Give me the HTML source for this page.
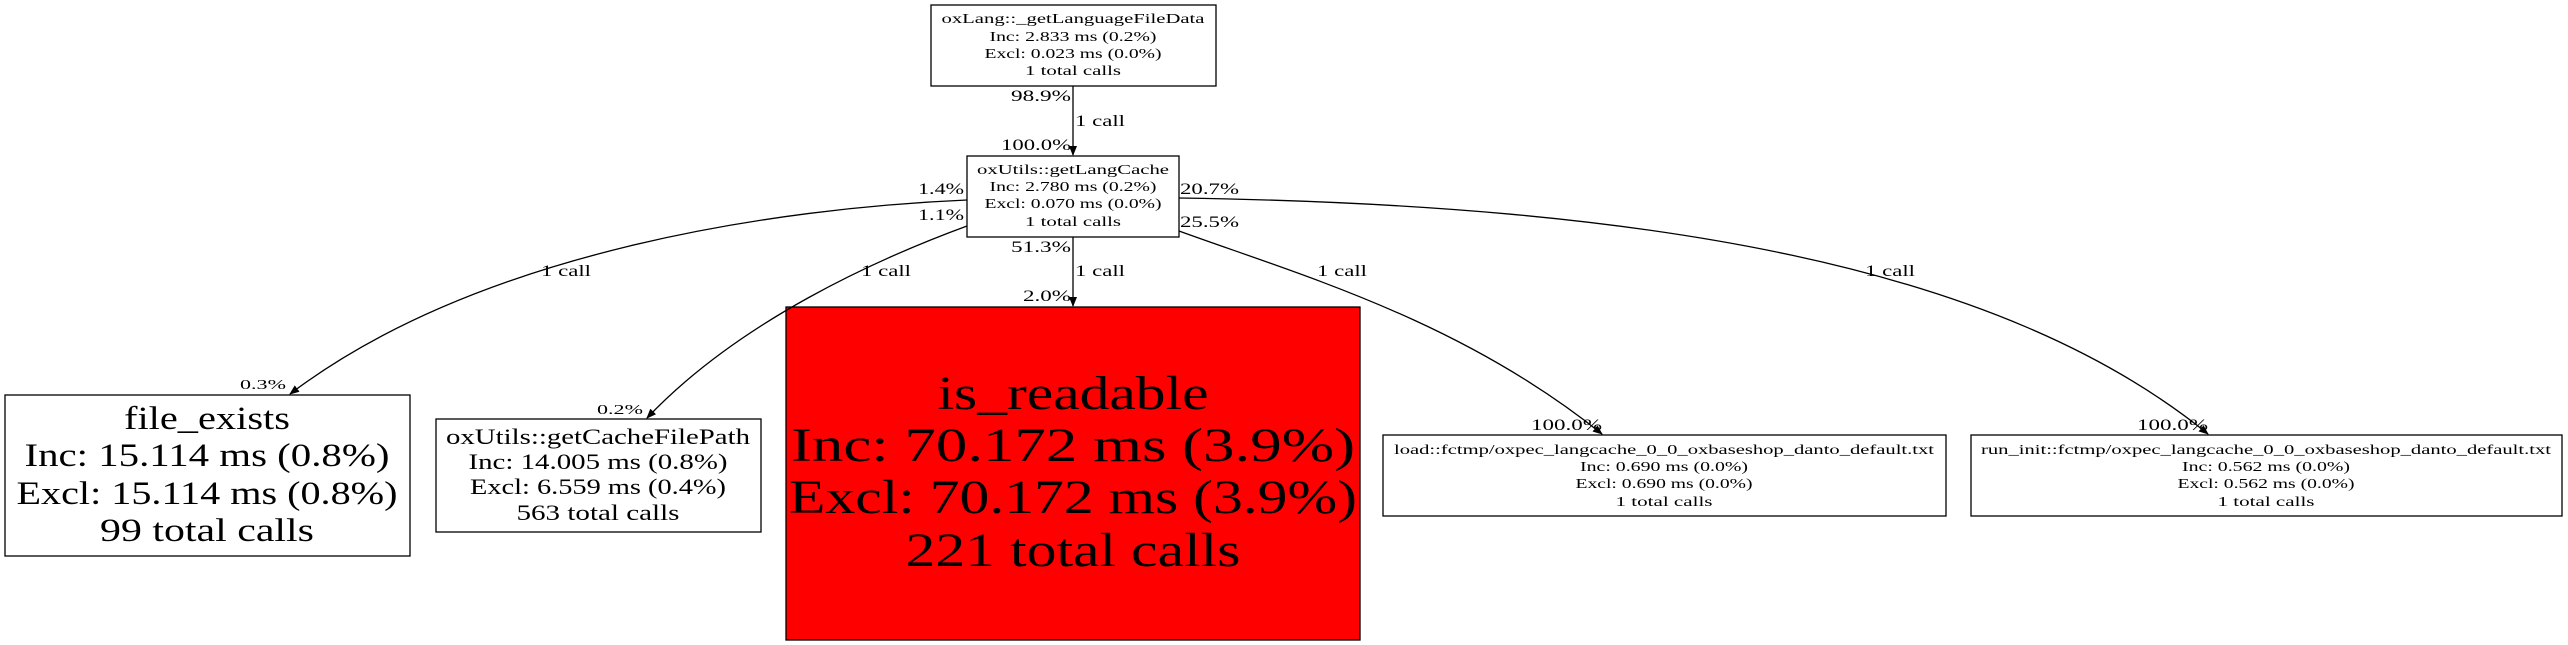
<!DOCTYPE html>
<html><head><meta charset="utf-8"><style>html,body{margin:0;padding:0;background:#fff}svg{display:block}</style></head>
<body>
<svg width="2568" height="645" viewBox="0 0 2568 645" xmlns="http://www.w3.org/2000/svg" font-family="Liberation Serif, serif">
<defs><marker id="a" markerWidth="10" markerHeight="8" refX="9" refY="4" orient="auto" markerUnits="userSpaceOnUse"><path d="M0,0 L10,4 L0,8 z" fill="#000"/></marker></defs>
<g fill="none" stroke="#000" stroke-width="1.3">
<rect x="931" y="5" width="285" height="81" fill="#fff"/>
<rect x="967" y="156" width="212" height="81" fill="#fff"/>
<rect x="5" y="395" width="405" height="161" fill="#fff"/>
<rect x="436" y="419" width="325" height="113" fill="#fff"/>
<rect x="786" y="307" width="574" height="333" fill="#ff0000"/>
<rect x="1383" y="435" width="563" height="81" fill="#fff"/>
<rect x="1971" y="435" width="591" height="81" fill="#fff"/>
<path d="M1073,86 L1073,155" marker-end="url(#a)"/>
<path d="M1073,237 L1073,306" marker-end="url(#a)"/>
<path d="M967,200 C780,208 480,250 290,394" marker-end="url(#a)"/>
<path d="M967,226 C880,258 740,320 647,418" marker-end="url(#a)"/>
<path d="M1179,198 C1650,205 2000,265 2208,434" marker-end="url(#a)"/>
<path d="M1179,231 C1300,275 1460,320 1602,434" marker-end="url(#a)"/>
</g>
<g text-anchor="middle" font-size="14">
<text x="1073" y="23" textLength="263" lengthAdjust="spacingAndGlyphs">oxLang::_getLanguageFileData</text>
<text x="1073" y="41" textLength="167" lengthAdjust="spacingAndGlyphs">Inc: 2.833 ms (0.2%)</text>
<text x="1073" y="58" textLength="177" lengthAdjust="spacingAndGlyphs">Excl: 0.023 ms (0.0%)</text>
<text x="1073" y="75" textLength="96" lengthAdjust="spacingAndGlyphs">1 total calls</text>
<text x="1073" y="174" textLength="192" lengthAdjust="spacingAndGlyphs">oxUtils::getLangCache</text>
<text x="1073" y="191" textLength="167" lengthAdjust="spacingAndGlyphs">Inc: 2.780 ms (0.2%)</text>
<text x="1073" y="208" textLength="177" lengthAdjust="spacingAndGlyphs">Excl: 0.070 ms (0.0%)</text>
<text x="1073" y="226" textLength="96" lengthAdjust="spacingAndGlyphs">1 total calls</text>
<text x="1664" y="454" textLength="540" lengthAdjust="spacingAndGlyphs">load::fctmp/oxpec_langcache_0_0_oxbaseshop_danto_default.txt</text>
<text x="1664" y="471" textLength="168" lengthAdjust="spacingAndGlyphs">Inc: 0.690 ms (0.0%)</text>
<text x="1664" y="488" textLength="177" lengthAdjust="spacingAndGlyphs">Excl: 0.690 ms (0.0%)</text>
<text x="1664" y="506" textLength="97" lengthAdjust="spacingAndGlyphs">1 total calls</text>
<text x="2266" y="454" textLength="570" lengthAdjust="spacingAndGlyphs">run_init::fctmp/oxpec_langcache_0_0_oxbaseshop_danto_default.txt</text>
<text x="2266" y="471" textLength="168" lengthAdjust="spacingAndGlyphs">Inc: 0.562 ms (0.0%)</text>
<text x="2266" y="488" textLength="177" lengthAdjust="spacingAndGlyphs">Excl: 0.562 ms (0.0%)</text>
<text x="2266" y="506" textLength="97" lengthAdjust="spacingAndGlyphs">1 total calls</text>
</g>
<g text-anchor="middle" font-size="33">
<text x="207" y="429" textLength="166" lengthAdjust="spacingAndGlyphs">file_exists</text>
<text x="207" y="466" textLength="365" lengthAdjust="spacingAndGlyphs">Inc: 15.114 ms (0.8%)</text>
<text x="207" y="504" textLength="381" lengthAdjust="spacingAndGlyphs">Excl: 15.114 ms (0.8%)</text>
<text x="207" y="541" textLength="214" lengthAdjust="spacingAndGlyphs">99 total calls</text>
</g>
<g text-anchor="middle" font-size="22">
<text x="598" y="444" textLength="304" lengthAdjust="spacingAndGlyphs">oxUtils::getCacheFilePath</text>
<text x="598" y="469" textLength="259" lengthAdjust="spacingAndGlyphs">Inc: 14.005 ms (0.8%)</text>
<text x="598" y="494" textLength="256" lengthAdjust="spacingAndGlyphs">Excl: 6.559 ms (0.4%)</text>
<text x="598" y="520" textLength="163" lengthAdjust="spacingAndGlyphs">563 total calls</text>
</g>
<g text-anchor="middle" font-size="48">
<text x="1073" y="409" textLength="271" lengthAdjust="spacingAndGlyphs">is_readable</text>
<text x="1073" y="461" textLength="564" lengthAdjust="spacingAndGlyphs">Inc: 70.172 ms (3.9%)</text>
<text x="1073" y="513" textLength="568" lengthAdjust="spacingAndGlyphs">Excl: 70.172 ms (3.9%)</text>
<text x="1073" y="566" textLength="335" lengthAdjust="spacingAndGlyphs">221 total calls</text>
</g>
<g font-size="16">
<text x="1075" y="126" textLength="50" lengthAdjust="spacingAndGlyphs">1 call</text>
<text x="1075" y="276" textLength="50" lengthAdjust="spacingAndGlyphs">1 call</text>
<text x="541" y="276" textLength="50" lengthAdjust="spacingAndGlyphs">1 call</text>
<text x="861" y="276" textLength="50" lengthAdjust="spacingAndGlyphs">1 call</text>
<text x="1317" y="276" textLength="50" lengthAdjust="spacingAndGlyphs">1 call</text>
<text x="1865" y="276" textLength="50" lengthAdjust="spacingAndGlyphs">1 call</text>
<text x="1180" y="194" textLength="59" lengthAdjust="spacingAndGlyphs">20.7%</text>
<text x="1180" y="227" textLength="59" lengthAdjust="spacingAndGlyphs">25.5%</text>
</g>
<g font-size="16" text-anchor="end">
<text x="1071" y="101" textLength="60" lengthAdjust="spacingAndGlyphs">98.9%</text>
<text x="1071" y="150" textLength="70" lengthAdjust="spacingAndGlyphs">100.0%</text>
<text x="964" y="194" textLength="46" lengthAdjust="spacingAndGlyphs">1.4%</text>
<text x="964" y="220" textLength="46" lengthAdjust="spacingAndGlyphs">1.1%</text>
<text x="1071" y="252" textLength="60" lengthAdjust="spacingAndGlyphs">51.3%</text>
<text x="1071" y="301" textLength="48" lengthAdjust="spacingAndGlyphs">2.0%</text>
<text x="1602" y="430" textLength="71" lengthAdjust="spacingAndGlyphs">100.0%</text>
<text x="2208" y="430" textLength="71" lengthAdjust="spacingAndGlyphs">100.0%</text>
</g>
<g font-size="14" text-anchor="end">
<text x="286" y="389" textLength="46" lengthAdjust="spacingAndGlyphs">0.3%</text>
<text x="643" y="414" textLength="46" lengthAdjust="spacingAndGlyphs">0.2%</text>
</g>
</svg>
</body></html>
